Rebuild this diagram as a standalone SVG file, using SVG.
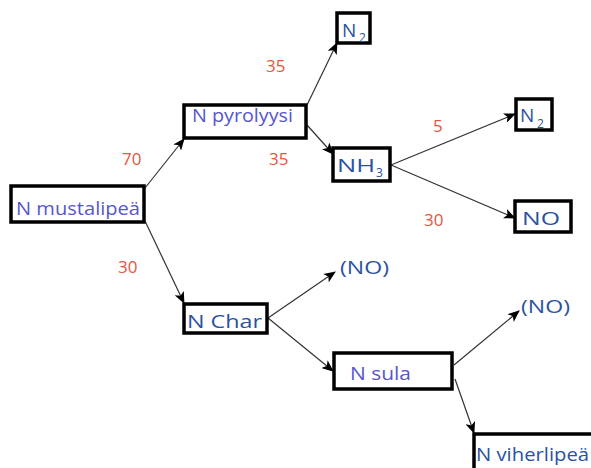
<svg xmlns="http://www.w3.org/2000/svg" width="591" height="468" viewBox="0 0 591 468">
<defs>
<marker id="arr" viewBox="0 0 12 10" refX="11" refY="5" markerWidth="12" markerHeight="10" markerUnits="userSpaceOnUse" orient="auto">
<path d="M0,0 L12,5 L0,10 L3,5 z" fill="#000"/>
</marker>
<style>
.box{fill:#fff;stroke:#000;stroke-width:3.5}
.lab{font-family:"Open Sans","Liberation Sans",sans-serif;font-size:19px;fill:#5656cc}
.lab2{font-family:"Open Sans","Liberation Sans",sans-serif;font-size:19px;fill:#2a52a0}
.sub{font-family:"Open Sans","Liberation Sans",sans-serif;font-size:12px;fill:#2a52a0}
.num{font-family:"Open Sans","Liberation Sans",sans-serif;font-size:17px;fill:#e5553c}
.con{stroke:#333;stroke-width:1.2;fill:none;marker-end:url(#arr)}
</style>
</defs>
<rect width="591" height="468" fill="#fff"/>
<g id="connectors">
<line class="con" x1="145" y1="188" x2="184" y2="139"/>
<line class="con" x1="145" y1="221" x2="184" y2="303"/>
<line class="con" x1="307" y1="105" x2="337" y2="43"/>
<line class="con" x1="307" y1="125" x2="333" y2="154"/>
<line class="con" x1="391" y1="165" x2="515" y2="114"/>
<line class="con" x1="391" y1="165" x2="515" y2="218"/>
<line class="con" x1="268" y1="318" x2="335" y2="272"/>
<line class="con" x1="268" y1="318" x2="333" y2="371"/>
<line class="con" x1="454" y1="365" x2="519" y2="311"/>
<line class="con" x1="455" y1="379" x2="474" y2="433"/>
</g>
<g id="labels">
<text class="num" x="266" y="72">35</text>
<text class="num" x="122" y="165">70</text>
<text class="num" x="269" y="165">35</text>
<text class="num" x="433" y="132">5</text>
<text class="num" x="424" y="226">30</text>
<text class="num" x="118" y="273">30</text>
</g>
<g id="n-mustalipea">
<rect class="box" x="11" y="186" width="133" height="36" stroke-width="4.5"/>
<text class="lab" x="16" y="215" textLength="124" lengthAdjust="spacingAndGlyphs">N mustalipeä</text>
</g>
<g id="n-pyrolyysi">
<rect class="box" x="184" y="105" width="122" height="33"/>
<text class="lab" x="192" y="122" textLength="101" lengthAdjust="spacingAndGlyphs">N pyrolyysi</text>
</g>
<g id="n2-top">
<rect class="box" x="337" y="13" width="33" height="30"/>
<text class="lab2" x="342" y="37" font-size="20">N</text><text class="sub" x="359" y="42">2</text>
</g>
<g id="nh3">
<rect class="box" x="333" y="148" width="57" height="33"/>
<text class="lab2" x="337" y="172" textLength="38" lengthAdjust="spacingAndGlyphs">NH</text><text class="sub" x="376" y="177">3</text>
</g>
<g id="n2-right">
<rect class="box" x="516" y="99" width="36" height="31"/>
<text class="lab2" x="520" y="122" font-size="20">N</text><text class="sub" x="537" y="128">2</text>
</g>
<g id="no">
<rect class="box" x="515" y="201" width="56" height="31"/>
<text class="lab2" x="522" y="225" textLength="38" lengthAdjust="spacingAndGlyphs">NO</text>
</g>
<g id="n-char">
<rect class="box" x="184" y="304" width="83" height="29"/>
<text class="lab2" x="187" y="328" textLength="75" lengthAdjust="spacingAndGlyphs">N Char</text>
</g>
<g id="no-1">
<text class="lab2" x="340" y="274" font-size="18" textLength="49" lengthAdjust="spacingAndGlyphs">(NO)</text>
</g>
<g id="no-2">
<text class="lab2" x="521" y="313" font-size="18" textLength="49" lengthAdjust="spacingAndGlyphs">(NO)</text>
</g>
<g id="n-sula">
<rect class="box" x="334" y="353" width="118" height="36"/>
<text class="lab" x="350" y="380" textLength="61" lengthAdjust="spacingAndGlyphs">N sula</text>
</g>
<g id="n-viherlipea">
<rect class="box" x="474" y="434" width="130" height="50"/>
<text class="lab2" x="476" y="461" textLength="113" lengthAdjust="spacingAndGlyphs">N viherlipeä</text>
</g>
</svg>
